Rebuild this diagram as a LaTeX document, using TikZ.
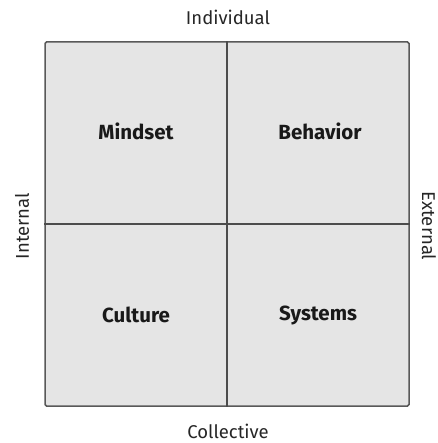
\documentclass[tikz,border=0pt]{standalone}
\usepackage{fontspec}
\setmainfont{Fira Sans}
\begin{document}
\begin{tikzpicture}[x=1pt,y=-1pt,
  axislabel/.style={font=\fontsize{18.5}{22}\selectfont, text=black!85, inner sep=1pt},
  quadlabel/.style={font=\fontsize{20.5}{24}\selectfont\bfseries, text=black!90},
  divider/.style={draw=black!70, line width=1.2pt}]
\clip (0,0) rectangle (437,443);
\useasboundingbox (0,0) rectangle (437,443);
\node[draw=black!65, line width=1.5pt, fill=black!10, rounded corners=1.5pt, minimum width=364pt, minimum height=364pt, inner sep=0pt] (sq) at (227,224) {};
\draw[divider] (sq.north) -- (sq.south);
\draw[divider] (sq.west) -- (sq.east);
\node[quadlabel] (mindset) at (136,131) {Mindset};
\node[quadlabel] (behavior) at (320,131) {Behavior};
\node[quadlabel] (culture) at (136,315) {Culture};
\node[quadlabel] (systems) at (318,315) {Systems};
\node[axislabel] (ind) at (228,17) {Individual};
\node[axislabel] (col) at (228,431) {Collective};
\node[axislabel, rotate=90] (int) at (22,226) {Internal};
\node[axislabel, rotate=-90] (ext) at (429,226) {External};
\end{tikzpicture}
\end{document}
